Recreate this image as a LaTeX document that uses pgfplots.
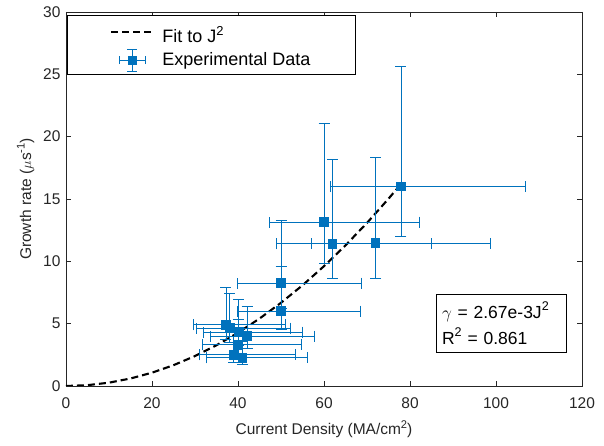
\documentclass[border=0pt]{standalone}
\usepackage{fontspec}
\setmainfont{Liberation Sans}
\usepackage{graphicx}
\usepackage{pgfplots}
\usepackage{pgfplotstable}
\pgfplotsset{compat=1.18}
\definecolor{mblue}{RGB}{0,114,189}
\definecolor{axgray}{RGB}{38,38,38}
\newcommand\sups[1]{\raisebox{0.42em}{\scalebox{0.72}{#1}}}

\pgfplotstableread{
x y xm xp ym yp
37.2 4.90 7.6 13.8 1.20 3.00
38.1 4.65 7.8 14.1 1.16 2.80
40.2 4.33 8.2 14.9 1.08 2.60
42.1 4.00 8.6 15.6 1.00 2.40
40.0 3.30 8.2 14.8 0.83 2.00
39.0 2.50 8.0 14.4 0.63 1.50
41.0 2.25 8.4 15.2 0.56 1.35
50.0 6.00 10.2 18.5 1.50 3.60
50.0 8.26 10.2 18.8 2.06 5.00
60.0 13.15 12.8 22.1 3.30 7.95
62.0 11.40 13.0 23.0 2.80 6.80
72.0 11.45 15.0 26.6 2.85 6.90
77.9 16.00 16.3 29.0 4.00 9.60
}\expdata

\pgfplotstableread{
J g
0 0
5 0.0668
10 0.267
15 0.601
20 1.068
25 1.669
30 2.403
35 3.271
40 4.272
45 5.407
50 6.675
55 8.077
60 9.612
65 11.281
70 13.083
75 15.019
78 16.244
}\fitdata

\begin{document}
\begin{tikzpicture}
\begin{axis}[
  name=ax,
  scale only axis,
  width=516pt, height=374pt,
  xmin=0, xmax=120, ymin=0, ymax=30,
  xtick={0,20,...,120}, ytick={0,5,...,30},
  tick align=inside,
  major tick length=5pt,
  axis line style={axgray, line width=0.5pt},
  tick style={axgray, line width=0.5pt},
  every tick label/.append style={text=axgray},
  xticklabel style={yshift=-8pt},
  yticklabel style={xshift=-2pt},
  font=\fontsize{15.5}{18}\selectfont,
  /pgf/number format/assume math mode=true,
  xlabel={Current Density (MA/cm\sups{2})},
  ylabel={Growth rate ($\mu$s\sups{-1})},
  xlabel style={text=axgray, yshift=-5pt},
  ylabel style={text=axgray, yshift=2pt},
  legend cell align=left,
  legend style={at={(0.002,0.992)}, anchor=north west, draw=black, line width=0.5pt,
    inner xsep=43pt, inner ysep=2.5pt, row sep=2.5pt, column sep=6pt,
    font=\fontsize{18}{21}\selectfont},
]
\addplot[black, line width=2.1pt, dash pattern=on 7pt off 4pt,
  legend image code/.code={\draw[black, line width=2.1pt, dash pattern=on 7pt off 4pt] (0pt,0pt) -- (42pt,0pt);}]
  table[x=J, y=g] {\fitdata};
\addlegendentry{\rule{0pt}{23pt}Fit to J\sups{2}}

\addplot[mblue, only marks, mark=square*, mark size=4.3pt,
  mark options={fill=mblue, draw=mblue, line width=0pt},
  legend image code/.code={
    \draw[mblue, line width=0.9pt] (8pt,0pt) -- (34pt,0pt);
    \draw[mblue, line width=0.9pt] (8pt,-4pt) -- (8pt,4pt);
    \draw[mblue, line width=0.9pt] (34pt,-4pt) -- (34pt,4pt);
    \draw[mblue, line width=0.9pt] (21pt,-11pt) -- (21pt,11pt);
    \draw[mblue, line width=0.9pt] (16pt,-11pt) -- (26pt,-11pt);
    \draw[mblue, line width=0.9pt] (16pt,11pt) -- (26pt,11pt);
    \fill[mblue] (17pt,-4pt) rectangle (25pt,4pt);
  },
  error bars/.cd,
    x dir=both, x explicit, y dir=both, y explicit,
    error mark options={rotate=90, mblue, mark size=5.5pt, line width=0.9pt},
    error bar style={mblue, line width=0.9pt},
  ]
  table[x=x, y=y, x error plus=xp, x error minus=xm, y error plus=yp, y error minus=ym] {\expdata};
\addlegendentry{Experimental Data}

\node[draw=black, line width=0.5pt, fill=white, anchor=north west, align=left,
  text width=118pt, inner xsep=6pt, inner ysep=8pt,
  font=\fontsize{17.5}{26}\selectfont] at (axis cs:86,7.4)
  {$\gamma$ = 2.67e-3J\sups{2}\\R\sups{2} = 0.861};
\end{axis}
\pgfresetboundingbox
\path ([shift={(-66pt,-60pt)}]ax.south west) rectangle ([shift={(22pt,12pt)}]ax.north east);
\end{tikzpicture}
\end{document}
